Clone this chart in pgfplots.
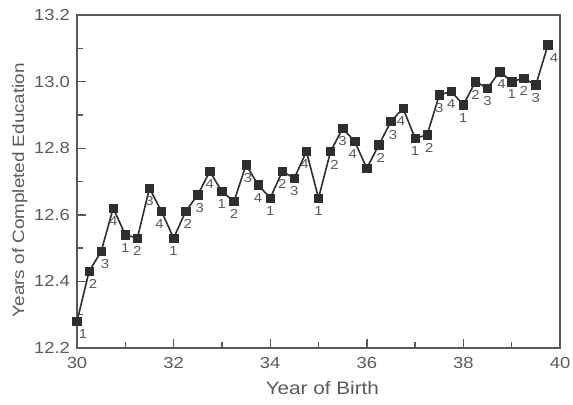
\documentclass[border=0pt]{standalone}
\usepackage{pgfplots}
\pgfplotsset{compat=1.18}
\usepackage{fontspec}
\setmainfont{Liberation Sans}[FakeStretch=1.15]
\definecolor{txt}{HTML}{5A5A5A}
\definecolor{ln}{HTML}{2E2E2E}

% quarter-year cohorts: x, years of education, quarter label, label shift
\pgfplotstableread{
x      y      q  dx
30.00  12.28  1  3
30.25  12.43  2  2
30.50  12.49  3  2
30.75  12.62  4  0
31.00  12.54  1  0
31.25  12.53  2  0
31.50  12.68  3  0
31.75  12.61  4  -1
32.00  12.53  1  0
32.25  12.61  2  1
32.50  12.66  3  1
32.75  12.73  4  0
33.00  12.67  1  0
33.25  12.64  2  0
33.50  12.75  3  1
33.75  12.69  4  0
34.00  12.65  1  0
34.25  12.73  2  0
34.50  12.71  3  0
34.75  12.79  4  -1
35.00  12.65  1  0
35.25  12.79  2  2
35.50  12.86  3  0
35.75  12.82  4  -1
36.00  12.74  1  0
36.25  12.81  2  1
36.50  12.88  3  1
36.75  12.92  4  -1
37.00  12.83  1  0
37.25  12.84  2  1
37.50  12.96  3  0
37.75  12.97  4  0
38.00  12.93  1  0
38.25  13.00  2  0
38.50  12.98  3  0
38.75  13.03  4  1
39.00  13.00  1  0
39.25  13.01  2  0
39.50  12.99  3  0
39.75  13.11  4  3
}\edudata

\begin{document}
\begin{tikzpicture}
\path[use as bounding box] (-38.5pt,-28pt) rectangle (248pt,174pt);
\begin{axis}[
  scale only axis,
  width=241.5pt, height=166.5pt,
  xmin=30, xmax=40, ymin=12.2, ymax=13.2,
  xtick={30,32,34,36,38,40},
  minor xtick={31,33,35,37,39},
  ytick={12.2,12.4,12.6,12.8,13.0,13.2},
  minor ytick={12.3,12.5,12.7,12.9,13.1},
  xtick pos=bottom, ytick pos=left,
  tick align=inside,
  major tick length=4.5pt, minor tick length=3pt,
  axis line style={draw=txt, line width=0.8pt},
  tick style={draw=txt, line width=0.7pt},
  tick label style={font=\fontsize{8}{9}\selectfont, text=txt},
  /pgf/number format/assume math mode=true,
  yticklabel style={/pgf/number format/.cd, fixed, fixed zerofill, precision=1},
  xticklabel style={yshift=-1pt},
  xlabel={Year of Birth},
  ylabel={Years of Completed Education},
  every axis x label/.style={at={(axis description cs:0.508,0)}, yshift=-20pt, anchor=center,
    font=\fontsize{9}{10}\selectfont, text=txt},
  every axis y label/.style={at={(axis description cs:-0.118,0.474)}, rotate=90, anchor=center,
    font=\fontsize{8.2}{10}\selectfont, text=txt},
]
\addplot[draw=ln, line width=0.8pt, mark=square*, mark size=2.1pt,
  mark options={fill=ln, draw=ln, line width=0.3pt}]
  table[x=x, y=y] {\edudata};
% quarter labels (the 36.0 point carries none in the source)
\addplot[draw=none, mark=none, skip coords between index={24}{25},
  point meta=explicit symbolic,
  visualization depends on={\thisrow{dx} \as \dx},
  nodes near coords,
  nodes near coords align={center},
  every node near coord/.append style={anchor=north, yshift=-4pt, xshift=\dx pt,
    font=\fontsize{6.5}{7}\selectfont, text=txt, inner sep=0pt},
] table[x=x, y=y, meta=q] {\edudata};
\end{axis}
\end{tikzpicture}
\end{document}
